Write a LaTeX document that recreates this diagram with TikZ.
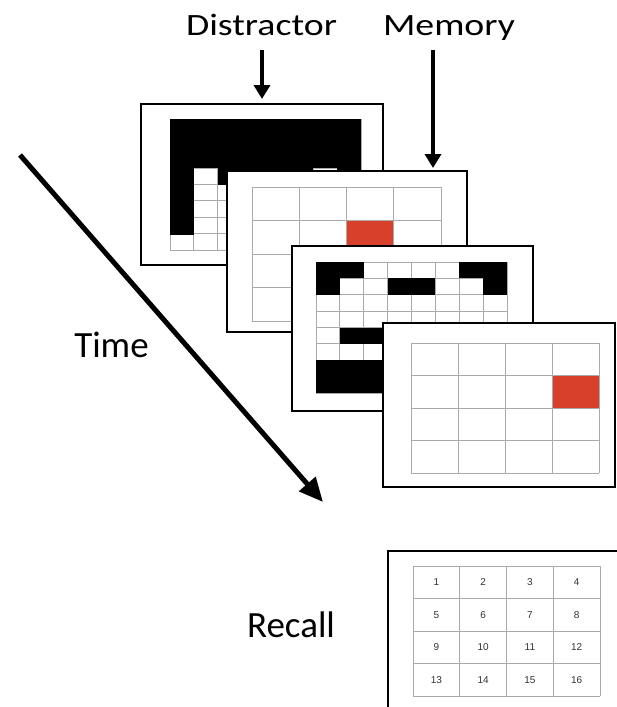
\documentclass[tikz,border=0pt]{standalone}
\usepackage{fontspec}
\setmainfont{Carlito}
\newfontfamily\numfont{Liberation Sans}
\usetikzlibrary{arrows.meta}
\definecolor{redcell}{RGB}{217,64,43}
\definecolor{gridgray}{RGB}{170,170,170}
\tikzset{
  frame/.style={draw=black, line width=2pt, fill=white, inner sep=0pt, outer sep=0pt},
  gl/.style={draw=gridgray, line width=0.8pt},
  lab/.style={font=\fontsize{31}{31}\selectfont, inner sep=0pt, anchor=base},
  biglab/.style={font=\fontsize{37}{37}\selectfont, inner sep=0pt, anchor=base},
  darr/.style={line width=3.5pt, -{Triangle[length=14pt,width=16pt]}},
  tarr/.style={line width=5pt, -{Triangle[length=24pt,width=21pt]}},
  num/.style={font=\numfont\fontsize{10}{10}\selectfont, text=black!80, inner sep=0pt}
}
\begin{document}
\begin{tikzpicture}[x=1pt,y=-1pt]
\clip (0,0) rectangle (617,707);
\fill[white] (0,0) rectangle (617,707);

% labels
\node[lab] (dlab) at (261.5,35) {\scalebox{1.22}[1]{Distractor}};
\node[lab] (mlab) at (449,35) {\scalebox{1.22}[1]{Memory}};
\node[biglab] (tlab) at (111.5,357) {Time};
\node[biglab] (rlab) at (291,637) {Recall};

% ---- frame 1: distractor
\node[frame, minimum width=242pt, minimum height=161pt] (f1) at (262,184.5) {};
\foreach \i in {0,...,8} \draw[gl] ({170+\i*23.875},119) -- ({170+\i*23.875},250);
\foreach \j in {0,...,8} \draw[gl] (170,{119+\j*16.375}) -- (361,{119+\j*16.375});
\fill[black] (170,119) rectangle (361,168.125);
\fill[black] (170,168.125) rectangle (193.875,234.625);
\fill[black] (217.75,168.125) rectangle (313.25,184.5);
\fill[black] (337.125,168.125) rectangle (361,184.5);

% ---- frame 2: memory
\node[frame, minimum width=240pt, minimum height=161pt] (f2) at (347,251.5) {};
\fill[redcell] (346.5,220.5) rectangle (393.75,254);
\foreach \i in {0,...,4} \draw[gl] ({252+\i*47.25},187) -- ({252+\i*47.25},321);
\foreach \j in {0,...,4} \draw[gl] (252,{187+\j*33.5}) -- (441,{187+\j*33.5});

% ---- frame 3: distractor
\node[frame, minimum width=241pt, minimum height=165pt] (f3) at (412.5,328.5) {};
\foreach \i in {0,...,8} \draw[gl] ({316+\i*23.875},262) -- ({316+\i*23.875},393);
\foreach \j in {0,...,8} \draw[gl] (316,{262+\j*16.375}) -- (507,{262+\j*16.375});
\foreach \c/\r in {0/0,1/0,6/0,7/0,0/1,3/1,4/1,7/1,1/4,2/4,3/4,0/6,1/6,2/6,3/6,0/7,1/7,2/7,3/7}
  \fill[black] ({316+\c*23.875},{262+\r*16.375}) rectangle ++(23.875,16.375);

% ---- frame 4: memory
\node[frame, minimum width=232pt, minimum height=164pt] (f4) at (499,405) {};
\fill[redcell] (552,375.5) rectangle (599,408);
\foreach \i in {0,...,4} \draw[gl] ({411+\i*47},343) -- ({411+\i*47},473);
\foreach \j in {0,...,4} \draw[gl] (411,{343+\j*32.5}) -- (599,{343+\j*32.5});

% ---- recall frame
\node[frame, minimum width=260pt, minimum height=190pt] (rf) at (518,646) {};
\foreach \i in {0,...,4} \draw[gl] ({413+\i*46.75},566) -- ({413+\i*46.75},696);
\foreach \j in {0,...,4} \draw[gl] (413,{566+\j*32.5}) -- (600,{566+\j*32.5});
\foreach \n [evaluate=\n as \c using {int(mod(\n-1,4))}, evaluate=\n as \r using {int((\n-1)/4)}] in {1,...,16}
  \node[num] (n\n) at ({413+46.75*(\c+0.5)},{566+32.5*(\r+0.5)}) {\n};

% ---- arrows
\coordinate (ds) at (262,50);
\coordinate (ms) at (433,50);
\draw[darr] (ds) -- ([yshift=5pt]f1.north);
\draw[darr] (ms) -- ([yshift=3pt]ms |- f2.north);
\coordinate (t1) at (20,155);
\coordinate (t2) at (323,502);
\draw[tarr] (t1) -- (t2);
\end{tikzpicture}
\end{document}
